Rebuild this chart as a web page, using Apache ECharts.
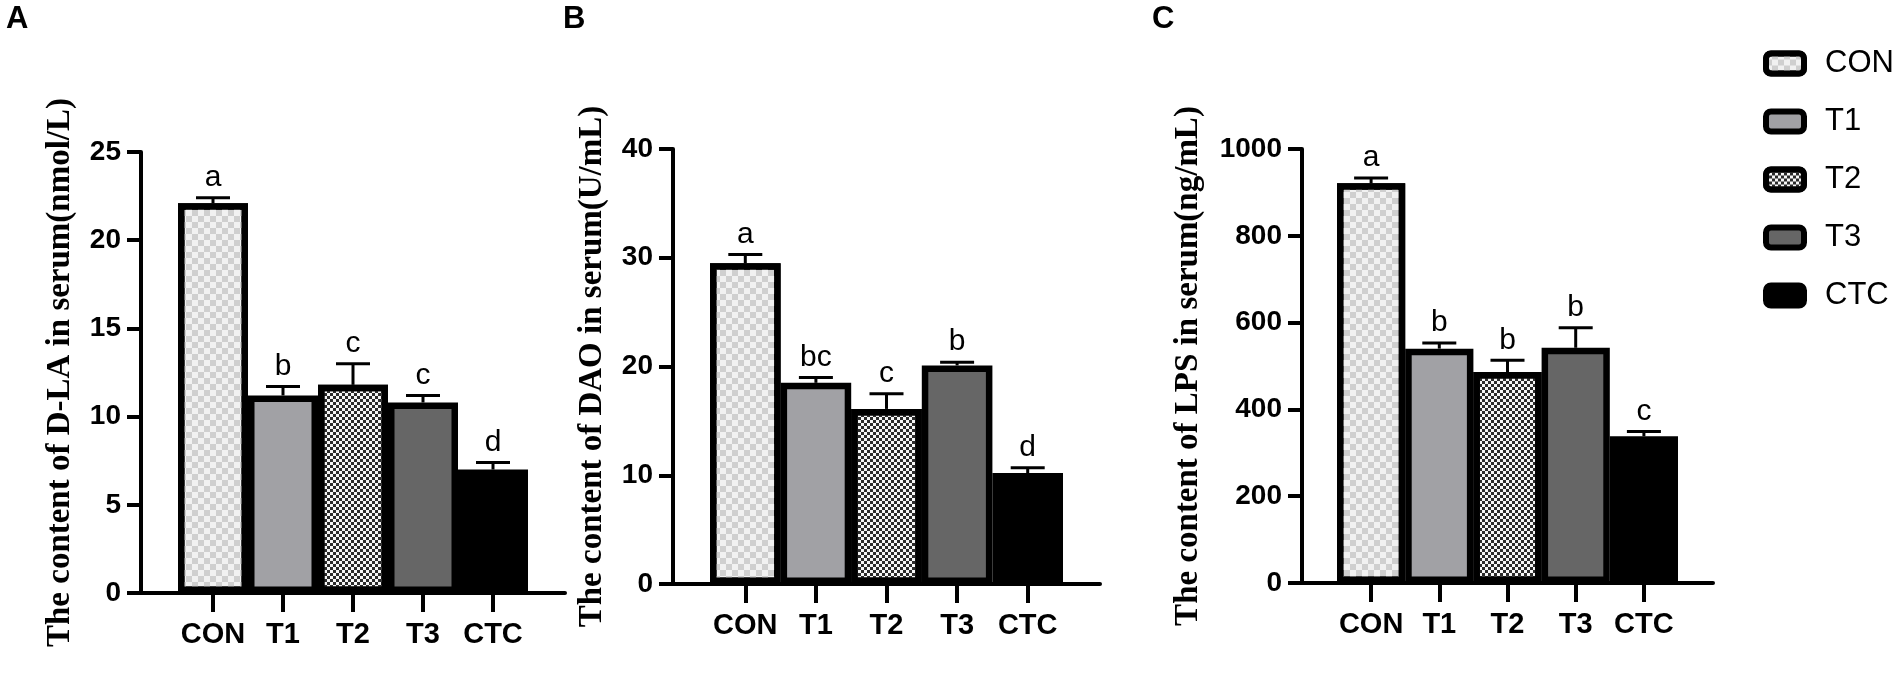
<!DOCTYPE html>
<html lang="en">
<head>
    <meta charset="UTF-8">
    <title>Intestinal barrier markers in serum</title>
    <script src="https://cdn.jsdelivr.net/npm/echarts/dist/echarts.min.js"></script>
    <style>
        html, body { margin: 0; padding: 0; background: #fff; }
        #chart { width: 1902px; height: 685px; }
    </style>
</head>
<body>
    <div id="chart"></div>

    <script>
        // groups and values (mean, SE, letters)
        const groups = ['CON', 'T1', 'T2', 'T3', 'CTC'];

        const dlaMean = [22.1, 11.2, 11.8, 10.8, 7.0];
        const dlaErr = [0.3, 0.5, 1.2, 0.4, 0.4];
        const dlaLetters = ['a', 'b', 'c', 'c', 'd'];
        const dlaTicks = [0, 25, 5];

        const daoMean = [29.5, 18.5, 16.1, 20.1, 10.2];
        const daoErr = [0.8, 0.5, 1.4, 0.3, 0.5];
        const daoLetters = ['a', 'bc', 'c', 'b', 'd'];
        const daoTicks = [0, 40, 10];

        const lpsMean = [921, 540, 486, 542, 338];
        const lpsErr = [12, 13, 27, 46, 11];
        const lpsLetters = ['a', 'b', 'b', 'b', 'c'];
        const lpsTicks = [0, 1000, 200];

        const SANS = 'Liberation Sans';
        const SERIF = 'Liberation Serif';

        const checker = (size, color) => ({
            symbol: 'rect',
            symbolSize: 1,
            rotation: 0,
            color: color,
            dashArrayX: [[size, size], [0, size, size, 0]],
            dashArrayY: [size, 0]
        });

        const groupStyle = [
            { color: '#f1f1f1', decal: checker(6, '#cfcfcf') },
            { color: '#a1a1a5' },
            { color: '#f6f6f6', decal: checker(3, '#2b2b2b') },
            { color: '#666666' },
            { color: '#000000' }
        ];

        const grid = [], xAxis = [], yAxis = [], series = [];

        function addPanel(p) {
            let frameIdx = grid.length;
            // frame grid: carries the y axis and the long x axis line
            grid.push({ left: p.axisX, width: p.frameW, top: p.top, height: p.height });
            // bar grid: exactly the span of the bars
            grid.push({ left: p.barX, width: p.barW, top: p.top, height: p.height });
            let barIdx = frameIdx + 1;

            xAxis.push({
                gridIndex: frameIdx, type: 'value', min: 0, max: 1,
                axisLine: { show: true, lineStyle: { color: '#000', width: 4 } },
                axisTick: { show: false }, axisLabel: { show: false }, splitLine: { show: false }
            });
            yAxis.push({
                gridIndex: frameIdx, type: 'value',
                min: p.ticks[0], max: p.ticks[1], interval: p.ticks[2],
                name: p.title, nameLocation: 'middle', nameGap: p.nameGap,
                nameTextStyle: { fontFamily: SERIF, fontWeight: 'bold', fontSize: 33, color: '#000' },
                axisLine: { show: true, lineStyle: { color: '#000', width: 4 } },
                axisTick: { show: true, length: 14, lineStyle: { color: '#000', width: 4 } },
                axisLabel: { fontFamily: SANS, fontWeight: 'bold', fontSize: 28, color: '#000', margin: 20,
                             formatter: v => String(v) },
                splitLine: { show: false }
            });

            xAxis.push({
                gridIndex: barIdx, type: 'category', data: groups,
                axisLine: { show: false },
                axisTick: { show: true, alignWithLabel: true, length: 19, lineStyle: { color: '#000', width: 4 } },
                axisLabel: { interval: 0, fontFamily: SANS, fontWeight: 'bold', fontSize: 29, color: '#000', margin: 27 },
                splitLine: { show: false }
            });
            yAxis.push({
                gridIndex: barIdx, type: 'value', show: false,
                min: p.ticks[0], max: p.ticks[1]
            });

            groups.forEach((g, j) => {
                series.push({
                    name: g,
                    type: 'bar',
                    xAxisIndex: barIdx,
                    yAxisIndex: barIdx,
                    barGap: '-100%',
                    barCategoryGap: '0%',
                    data: p.mean.map((v, k) => (k === j ? v : '-')),
                    itemStyle: Object.assign({ borderColor: '#000', borderWidth: 6.5 }, groupStyle[j]),
                    z: 2
                });
            });

            series.push({
                type: 'custom',
                xAxisIndex: barIdx,
                yAxisIndex: barIdx,
                z: 5,
                data: p.mean.map((v, k) => [k, v, p.err[k]]),
                renderItem: function (params, api) {
                    let k = api.value(0), m = api.value(1), e = api.value(2);
                    let base = api.coord([k, m]);
                    let top = api.coord([k, m + e]);
                    return {
                        type: 'group',
                        children: [
                            { type: 'line', shape: { x1: base[0], y1: base[1], x2: top[0], y2: top[1] },
                              style: { stroke: '#000', lineWidth: 3 } },
                            { type: 'line', shape: { x1: top[0] - 17, y1: top[1], x2: top[0] + 17, y2: top[1] },
                              style: { stroke: '#000', lineWidth: 3 } },
                            { type: 'text', x: top[0], y: top[1] - 5,
                              style: { text: p.letters[params.dataIndex], textAlign: 'center', textVerticalAlign: 'bottom',
                                       font: '30px "' + SANS + '"', fill: '#000' } }
                        ]
                    };
                }
            });
        }

        addPanel({
            axisX: 141, frameW: 424, barX: 178, barW: 350, top: 152, height: 441, nameGap: 64,
            ticks: dlaTicks, mean: dlaMean, err: dlaErr, letters: dlaLetters,
            title: 'The content of D-LA in serum(nmol/L)'
        });
        addPanel({
            axisX: 673, frameW: 427, barX: 710, barW: 353, top: 149, height: 435, nameGap: 64,
            ticks: daoTicks, mean: daoMean, err: daoErr, letters: daoLetters,
            title: 'The content of DAO in serum(U/mL)'
        });
        addPanel({
            axisX: 1302, frameW: 411, barX: 1337, barW: 341, top: 149, height: 434, nameGap: 97,
            ticks: lpsTicks, mean: lpsMean, err: lpsErr, letters: lpsLetters,
            title: 'The content of LPS in serum(ng/mL)'
        });

        const panelTitle = (t, x) => ({
            text: t, left: x, top: 4, padding: 0,
            textStyle: { fontFamily: SANS, fontWeight: 'bold', fontSize: 31, color: '#000' }
        });

        let chart = echarts.init(document.getElementById('chart'));
        chart.setOption({
            animation: false,
            backgroundColor: '#fff',
            title: [panelTitle('A', 6), panelTitle('B', 563), panelTitle('C', 1152)],
            legend: {
                data: groups,
                orient: 'vertical',
                left: 1763,
                top: 48,
                padding: 0,
                itemWidth: 38,
                itemHeight: 20,
                itemGap: 27,
                selectedMode: false,
                itemStyle: { borderColor: '#000', borderWidth: 6 },
                textStyle: { fontFamily: SANS, fontSize: 31, color: '#000', lineHeight: 30, padding: [0, 0, 0, 16] }
            },
            grid: grid,
            xAxis: xAxis,
            yAxis: yAxis,
            series: series
        });
    </script>
</body>
</html>
